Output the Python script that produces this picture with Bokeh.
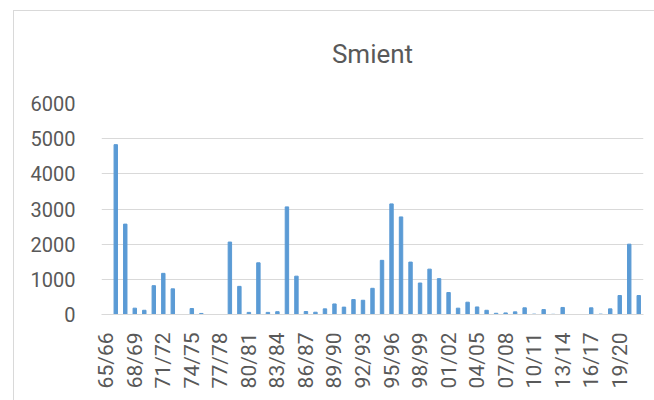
import math
from bokeh.plotting import figure
from bokeh.models import (FixedTicker, NumeralTickFormatter, ColumnDataSource, Range1d,
                          InlineStyleSheet)
from bokeh.embed import file_html
from bokeh.resources import INLINE

# ---- data -------------------------------------------------------------
seasons = ["65/66", "66/67", "67/68", "68/69", "69/70", "70/71", "71/72", "72/73",
           "73/74", "74/75", "75/76", "76/77", "77/78", "78/79", "79/80", "80/81",
           "81/82", "82/83", "83/84", "84/85", "85/86", "86/87", "87/88", "88/89",
           "89/90", "90/91", "91/92", "92/93", "93/94", "94/95", "95/96", "96/97",
           "97/98", "98/99", "99/00", "00/01", "01/02", "02/03", "03/04", "04/05",
           "05/06", "06/07", "07/08", "08/09", "09/10", "10/11", "11/12", "12/13",
           "13/14", "14/15", "15/16", "16/17", "17/18", "18/19", "19/20", "20/21",
           "21/22"]
smient = [0, 4830, 2570, 180, 120, 820, 1170, 730,
          0, 170, 30, 0, 0, 2060, 800, 60,
          1470, 60, 80, 3060, 1090, 85, 65, 160,
          300, 210, 425, 405, 745, 1540, 3145, 2775,
          1490, 895, 1290, 1020, 625, 180, 350, 215,
          120, 35, 45, 75, 190, 10, 140, 5,
          200, 0, 0, 190, 10, 160, 540, 2000,
          540]
label_step = 3
y_ticks = [0, 1000, 2000, 3000, 4000, 5000, 6000]
title_text = "Smient"

# ---- figure -----------------------------------------------------------
idx = list(range(len(seasons)))
src = ColumnDataSource(dict(x=idx, top=smient, season=seasons))

W, H = 654, 400
p = figure(width=W, height=H, output_backend="svg", toolbar_location=None,
           x_range=Range1d(-0.5, len(seasons) - 0.5), y_range=Range1d(0, 6000),
           min_border_left=101, min_border_right=11, min_border_top=103,
           min_border_bottom=86, title=title_text)
p.outline_line_color = None
p.background_fill_color = "white"
p.border_fill_color = "white"

p.title.align = "center"
p.title.offset = -29
p.title.standoff = 70
p.title.text_font = "Roboto"
p.title.text_font_style = "normal"
p.title.text_font_size = "26px"
p.title.text_color = "#595959"

p.vbar(x="x", top="top", width=0.36, source=src, color="#5B9BD5")

# y axis
p.yaxis.ticker = FixedTicker(ticks=y_ticks)
p.yaxis.formatter = NumeralTickFormatter(format="0")
p.yaxis.axis_line_color = None
p.yaxis.major_tick_line_color = None
p.yaxis.minor_tick_line_color = None
p.yaxis.major_label_standoff = 20
p.yaxis.major_label_text_font = "Roboto"
p.yaxis.major_label_text_font_size = "20px"
p.yaxis.major_label_text_color = "#595959"

# x axis
tick_idx = idx[::label_step]
p.xaxis.ticker = FixedTicker(ticks=tick_idx)
p.xaxis.major_label_overrides = {i: seasons[i] for i in tick_idx}
p.xaxis.major_label_orientation = math.pi / 2
p.xaxis.axis_line_color = "#D9D9D9"
p.xaxis.axis_line_width = 1
p.xaxis.major_tick_line_color = None
p.xaxis.minor_tick_line_color = None
p.xaxis.major_label_standoff = 12
p.xaxis.major_label_text_font = "Roboto"
p.xaxis.major_label_text_font_size = "21px"
p.xaxis.major_label_text_color = "#595959"

# grid
p.xgrid.grid_line_color = None
p.ygrid.grid_line_color = "#D9D9D9"
p.ygrid.grid_line_width = 1

# chart-area border (left and top edges visible in the window)
p.stylesheets = [InlineStyleSheet(css="""
:host { position: relative; }
:host::after { content: ''; position: absolute; left: 13px; top: 10px; right: 0; bottom: 0;
  border-left: 1.5px solid #D9D9D9; border-top: 1.5px solid #D9D9D9;
  pointer-events: none; }
""")]

open("out.html", "w").write(file_html(p, INLINE))
